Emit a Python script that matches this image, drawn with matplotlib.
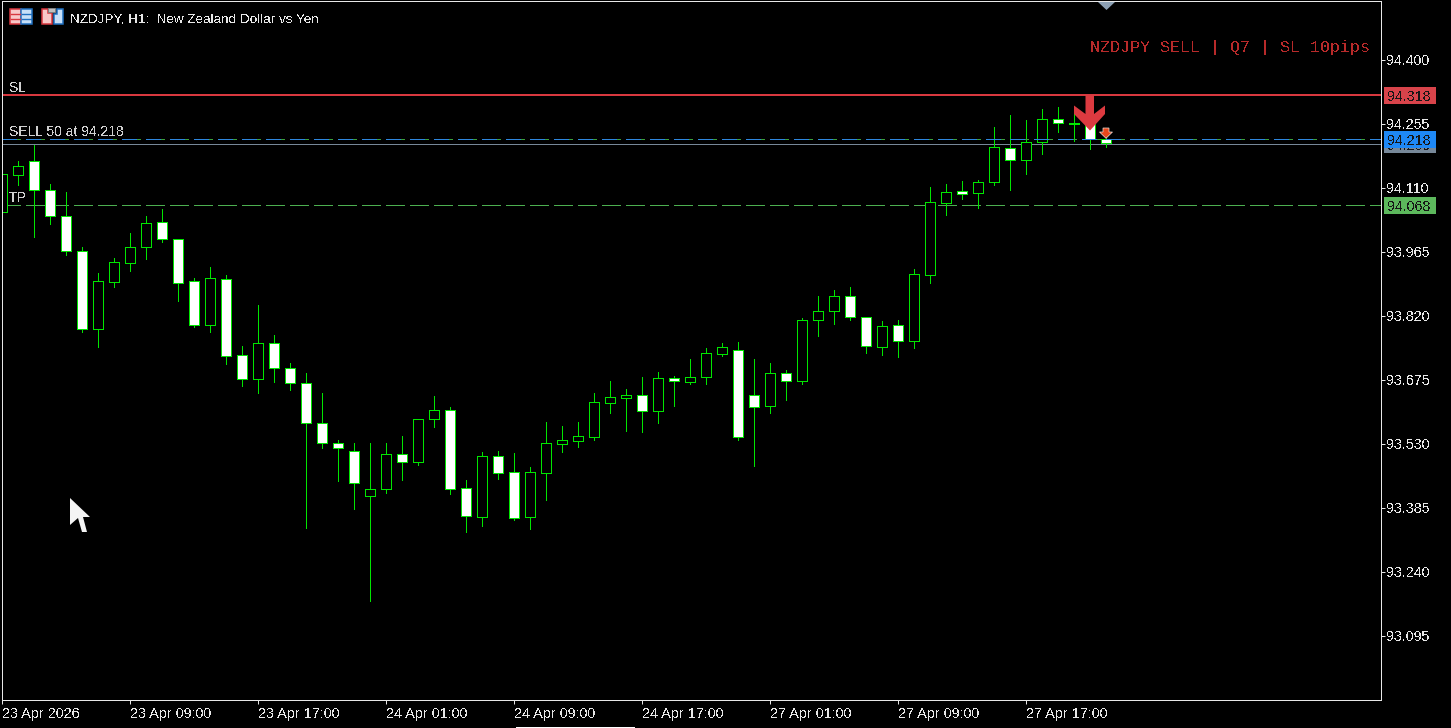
# NZDJPY H1 candlestick chart, MT5 style
import numpy as np
import matplotlib
matplotlib.use("Agg")
import matplotlib.pyplot as plt
from matplotlib.patches import Polygon, Rectangle
from matplotlib.transforms import ScaledTranslation

# candle data
opens = [94.056, 94.139, 94.171, 94.105, 94.047, 93.967, 93.791, 93.897, 93.940, 93.976,
         94.033, 93.994, 93.899, 93.800, 93.904, 93.732, 93.677, 93.759, 93.702, 93.668,
         93.578, 93.532, 93.514, 93.412, 93.428, 93.507, 93.489, 93.587, 93.607, 93.430,
         93.365, 93.503, 93.467, 93.365, 93.464, 93.530, 93.537, 93.546, 93.623, 93.634,
         93.641, 93.605, 93.680, 93.670, 93.682, 93.734, 93.743, 93.641, 93.616, 93.691,
         93.673, 93.811, 93.831, 93.865, 93.818, 93.750, 93.800, 93.763, 93.913, 94.076,
         94.103, 94.099, 94.124, 94.201, 94.173, 94.214, 94.266, 94.254, 94.257, 94.221]
highs = [94.151, 94.171, 94.207, 94.119, 94.101, 93.976, 93.917, 93.951, 94.008, 94.047,
         94.062, 93.994, 93.906, 93.931, 93.913, 93.752, 93.845, 93.777, 93.714, 93.691,
         93.645, 93.539, 93.532, 93.532, 93.532, 93.548, 93.587, 93.639, 93.614, 93.448,
         93.512, 93.514, 93.510, 93.478, 93.580, 93.571, 93.580, 93.645, 93.673, 93.655,
         93.682, 93.693, 93.684, 93.723, 93.747, 93.759, 93.761, 93.723, 93.714, 93.698,
         93.815, 93.865, 93.879, 93.886, 93.818, 93.809, 93.811, 93.926, 94.112, 94.119,
         94.126, 94.128, 94.248, 94.275, 94.264, 94.289, 94.294, 94.294, 94.266, 94.237]
lows = [94.056, 94.117, 93.999, 94.028, 93.958, 93.784, 93.750, 93.886, 93.922, 93.949,
        93.988, 93.854, 93.795, 93.784, 93.711, 93.661, 93.645, 93.670, 93.652, 93.340,
        93.521, 93.446, 93.383, 93.174, 93.419, 93.448, 93.482, 93.569, 93.417, 93.331,
        93.344, 93.451, 93.358, 93.337, 93.403, 93.512, 93.523, 93.539, 93.600, 93.559,
        93.557, 93.578, 93.616, 93.666, 93.666, 93.729, 93.539, 93.480, 93.600, 93.630,
        93.666, 93.775, 93.802, 93.811, 93.736, 93.732, 93.727, 93.747, 93.895, 94.049,
        94.085, 94.064, 94.117, 94.105, 94.142, 94.187, 94.237, 94.216, 94.198, 94.203]
closes = [94.142, 94.160, 94.105, 94.047, 93.967, 93.791, 93.899, 93.942, 93.976, 94.031,
          93.994, 93.895, 93.800, 93.906, 93.729, 93.677, 93.759, 93.702, 93.668, 93.578,
          93.532, 93.521, 93.442, 93.428, 93.507, 93.489, 93.587, 93.607, 93.428, 93.367,
          93.503, 93.464, 93.362, 93.467, 93.532, 93.539, 93.548, 93.625, 93.636, 93.641,
          93.605, 93.680, 93.673, 93.682, 93.736, 93.750, 93.546, 93.614, 93.691, 93.673,
          93.811, 93.831, 93.865, 93.818, 93.752, 93.797, 93.763, 93.915, 94.078, 94.101,
          94.096, 94.124, 94.203, 94.173, 94.214, 94.266, 94.257, 94.257, 94.221, 94.212]

y_ticks = [94.400, 94.255, 94.110, 93.965, 93.820, 93.675, 93.530, 93.385, 93.240, 93.095]
x_tick_bars = [0, 8, 16, 24, 32, 40, 48, 56, 64]
x_tick_labels = ["23 Apr 2026", "23 Apr 09:00", "23 Apr 17:00", "24 Apr 01:00", "24 Apr 09:00",
                 "24 Apr 17:00", "27 Apr 01:00", "27 Apr 09:00", "27 Apr 17:00"]

# horizontal level lines sit a touch off the printed tick scale, so line and tag text are separate
sl_line, entry_line, bid_line, tp_line = 94.3215, 94.2203, 94.2095, 94.0708
sl_text, entry_text, bid_text, tp_text = "94.318", "94.218", "94.209", "94.068"

GREEN = "#00E600"
WHITE = "#E8E8E8"
FONT = "Liberation Sans"

plt.rcParams["text.antialiased"] = False
plt.rcParams["font.family"] = FONT
W, H = 1451, 728
fig = plt.figure(figsize=(W / 100, H / 100), dpi=100, facecolor="black")
ax = fig.add_axes([2 / W, (H - 700) / H, 1379 / W, 699 / H], facecolor="black")
ax.set_xlim(0, 1379 / 16)
ax.set_ylim(92.95, 94.5337)

PX = 0.72  # one pixel in points

# candles
bars = np.arange(len(opens))
opens_a, closes_a = np.array(opens), np.array(closes)
ax.vlines(bars, lows, highs, color=GREEN, lw=PX, antialiased=False, zorder=2)
fills = np.where(closes_a < opens_a, "white", "black")
ax.bar(bars, np.abs(closes_a - opens_a), bottom=np.minimum(opens_a, closes_a), width=10 / 16,
       color=fills, edgecolor=GREEN, linewidth=PX, antialiased=False, zorder=3)

# levels (dash lengths are nudged because aliased dashes get truncated to whole pixels)
ax.axhline(sl_line, color="#D8383F", lw=2 * PX, antialiased=False, zorder=4)
ax.axhline(bid_line, color="#778899", lw=PX, antialiased=False, zorder=1)
ax.axhline(entry_line, color="#3CA03C", lw=PX, ls=(0, (18.2, 5.8)), antialiased=False, zorder=4)
ax.axhline(entry_line, color="#2E86DE", lw=PX, ls=(0, (14.2, 9.8)), antialiased=False, zorder=4)
ax.axhline(tp_line, color="#4CAF50", lw=PX, ls=(0, (18.2, 5.8)), antialiased=False, zorder=1)

# frame and ticks
for side in ax.spines.values():
    side.set_color(WHITE)
    side.set_linewidth(PX)
ax.spines["left"].set_zorder(6)
ax.set_yticks(y_ticks)
ax.set_yticklabels([f"{v:.3f}" for v in y_ticks], va="center_baseline")
ax.yaxis.tick_right()
ax.set_xticks(x_tick_bars)
ax.set_xticklabels(x_tick_labels, ha="left")
ax.tick_params(axis="both", colors=WHITE, length=2.9, width=PX, labelsize=10.3, pad=1)
ax.tick_params(axis="x", pad=2, labelsize=10.4)
# price labels sit one pixel above their tick
for tick in ax.yaxis.get_major_ticks():
    tick.label2.set_transform(tick.label2.get_transform() + ScaledTranslation(0, 0.01, fig.dpi_scale_trans))

# overlay in screen pixels for the terminal's own decorations
ov = fig.add_axes([0, 0, 1, 1], facecolor="none")
ov.set_xlim(0, W)
ov.set_ylim(H, 0)
ov.axis("off")


def row(price):
    return H - ax.transData.transform((0, price))[1]


def bar_col(i):
    return ax.transData.transform((i, 0))[0]


def tag(price, color, label, z=5, shift=0):
    y = row(price) + shift
    ov.add_patch(Rectangle((1384, y - 8.5), 52, 17, color=color, lw=0, zorder=z))
    ov.text(1387, y, label, color="#161616", fontsize=10.3, va="center_baseline", zorder=z)


tag(sl_line, "#D8434A", sl_text, shift=1)
tag(bid_line, "#778899", bid_text, 5)
tag(entry_line, "#1E88F5", entry_text, 6)
tag(tp_line, "#5CB85C", tp_text)

ov.text(70, 17.5, "NZDJPY, H1:  New Zealand Dollar vs Yen", color=WHITE, fontsize=9.7, va="center_baseline")
ov.text(1370, 46, "NZDJPY SELL | Q7 | SL 10pips", color="#B82A2A", fontsize=12,
        family="Liberation Mono", ha="right", va="center_baseline")
ov.text(9, 86.5, "SL", color="#D0D0D0", fontsize=10, va="center_baseline")
ov.text(9, 130.5, "SELL 50 at 94.218", color="#D0D0D0", fontsize=10, va="center_baseline")
ov.text(9, 196.5, "TP", color="#D0D0D0", fontsize=10, va="center_baseline")

# big sell arrow on bar 68, small one on bar 69
cx = bar_col(68)
big = np.array([(-4.5, 95), (4, 95), (4, 114), (15, 105.5), (15, 114), (0, 130.5),
                (-16, 114), (-16, 105.5), (-4.5, 114)])
ov.add_patch(Polygon(big + [cx, 0], color="#DC3A40", lw=0, zorder=7))
cx = bar_col(69)
small = np.array([(-3, 128), (3, 128), (3, 132), (6.5, 132), (0, 138.3), (-6.5, 132), (-3, 132)])
ov.add_patch(Polygon(small + [cx, 0], facecolor="#E8481C", edgecolor="#F0E0D8", lw=0.5, zorder=7))

# little marker on the top edge
ov.add_patch(Polygon([(1098, 2), (1115, 2), (1106.5, 10)], color="#8CA0B4", lw=0, zorder=7))
# bottom scroll strip
ov.add_patch(Rectangle((516, 727), 119, 1, color="white", lw=0))

# mouse pointer
ov.add_patch(Polygon([(70, 498), (70, 525), (78, 518), (82, 532), (87, 532), (83, 517), (90, 517)],
                     color="#F4F4F4", lw=0, zorder=7))

# toolbar icons top left
ov.add_patch(Rectangle((10, 9), 11, 15, facecolor="#F8C8C8", edgecolor="#D8383F", lw=1.1))
ov.add_patch(Rectangle((21, 9), 11, 15, facecolor="#C8E0F8", edgecolor="#2070C0", lw=1.1))
for y in [13.5, 18.5]:
    ov.plot([11, 20], [y, y], color="#D8383F", lw=1)
    ov.plot([22, 31], [y, y], color="#2070C0", lw=1)
ov.add_patch(Polygon([(42, 9), (48, 9), (48, 13), (52, 13), (52, 24), (42, 24)],
                     facecolor="#F8C8C8", edgecolor="#D8383F", lw=1.1))
ov.add_patch(Polygon([(57, 9), (63, 9), (63, 24), (54, 24), (54, 14), (57, 14)],
                     facecolor="#C8E0F8", edgecolor="#2070C0", lw=1.1))
ov.add_patch(Rectangle((48, 8), 7, 4, facecolor="#C0C0C0", edgecolor="#808080", lw=0.7))

fig.savefig("out.png", dpi=100, facecolor="black")
